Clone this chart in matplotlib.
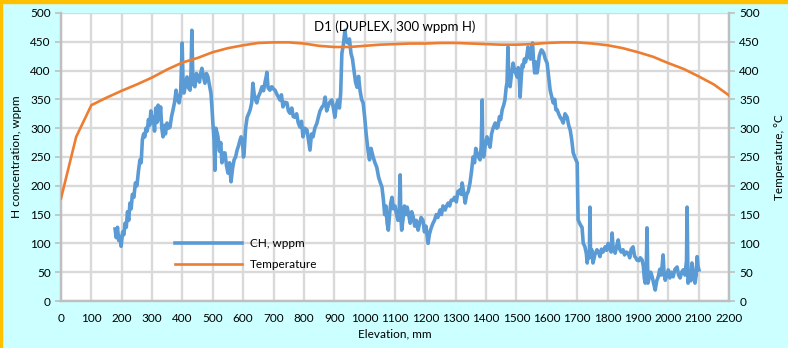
import numpy as np
import matplotlib
matplotlib.use("Agg")
import matplotlib.pyplot as plt
from matplotlib.patches import Rectangle

plt.rcParams['font.family'] = ['Lato', 'DejaVu Sans']

# H concentration profile along the sample (elevation mm, wppm)
elev_ch = [178, 182, 186, 190, 195, 198, 203, 207, 211, 215, 219, 223, 227, 231, 235, 240, 245, 250, 255, 260,
           264, 268, 272, 276, 280, 284, 288, 292, 296, 300, 304, 308, 312, 316, 320, 324, 328, 332, 336, 340,
           344, 349, 354, 359, 364, 369, 374, 379, 384, 389, 394, 399, 402, 405, 410, 415, 420, 425, 428, 431,
           434, 437, 441, 446, 451, 456, 460, 464, 469, 474, 479, 484, 489, 494, 497, 500, 504, 507, 510, 514,
           517, 522, 526, 530, 535, 540, 545, 550, 555, 560, 565, 570, 575, 580, 585, 590, 593, 598, 601, 603,
           608, 613, 618, 623, 628, 632, 636, 640, 645, 650, 656, 662, 667, 672, 676, 678, 682, 688, 694, 700,
           705, 710, 715, 721, 726, 731, 737, 744, 749, 754, 760, 765, 771, 776, 781, 787, 792, 797, 803, 810,
           815, 820, 825, 830, 836, 843, 848, 853, 860, 865, 870, 875, 879, 885, 892, 897, 902, 907, 912, 917,
           921, 925, 930, 935, 940, 945, 950, 955, 960, 965, 970, 975, 980, 985, 990, 995, 1000, 1005, 1011, 1016,
           1021, 1028, 1034, 1040, 1046, 1052, 1057, 1062, 1066, 1070, 1074, 1078, 1082, 1086, 1090, 1095, 1100,
           1105, 1110, 1114, 1117, 1119, 1122, 1126, 1131, 1136, 1140, 1145, 1150, 1155, 1160, 1165, 1170, 1176,
           1181, 1186, 1192, 1197, 1202, 1209, 1213, 1218, 1225, 1230, 1236, 1241, 1248, 1253, 1258, 1265, 1270,
           1275, 1280, 1285, 1291, 1296, 1302, 1307, 1314, 1318, 1321, 1326, 1331, 1336, 1341, 1347, 1352, 1357,
           1362, 1366, 1370, 1375, 1380, 1384, 1387, 1389, 1392, 1397, 1403, 1408, 1413, 1418, 1423, 1430, 1435,
           1439, 1444, 1448, 1453, 1458, 1462, 1466, 1469, 1472, 1475, 1479, 1484, 1489, 1494, 1498, 1502, 1506,
           1510, 1512, 1516, 1519, 1522, 1526, 1530, 1534, 1538, 1542, 1546, 1550, 1553, 1556, 1560, 1564, 1568,
           1572, 1575, 1578, 1582, 1586, 1590, 1595, 1601, 1606, 1611, 1616, 1621, 1626, 1630, 1634, 1639, 1644,
           1649, 1654, 1660, 1667, 1672, 1677, 1682, 1687, 1692, 1696, 1700, 1703, 1708, 1713, 1716, 1720, 1725,
           1730, 1733, 1736, 1740, 1742, 1744, 1748, 1752, 1758, 1765, 1770, 1775, 1780, 1785, 1792, 1797, 1802,
           1808, 1812, 1815, 1818, 1822, 1825, 1830, 1835, 1840, 1845, 1851, 1856, 1862, 1868, 1873, 1878, 1884,
           1889, 1893, 1897, 1903, 1908, 1914, 1918, 1921, 1924, 1927, 1930, 1933, 1937, 1942, 1947, 1952, 1957,
           1962, 1967, 1972, 1977, 1983, 1986, 1990, 1995, 2000, 2005, 2010, 2016, 2022, 2029, 2034, 2039, 2044,
           2049, 2055, 2060, 2062, 2065, 2070, 2074, 2078, 2082, 2085, 2088, 2092, 2095, 2098, 2101]
ch_wppm = [125, 110, 128, 105, 112, 95, 120, 115, 135, 128, 155, 140, 170, 160, 185, 180, 205, 200, 225, 245,
           240, 280, 290, 285, 300, 295, 315, 305, 330, 310, 320, 295, 335, 310, 340, 315, 337, 300, 285, 305,
           290, 309, 300, 302, 320, 332, 345, 366, 350, 344, 360, 448, 380, 361, 375, 389, 370, 366, 395, 470,
           390, 375, 372, 395, 389, 380, 395, 404, 390, 378, 395, 389, 375, 360, 337, 310, 280, 227, 300, 292,
           285, 260, 275, 240, 257, 257, 235, 222, 240, 207, 230, 245, 250, 262, 270, 280, 285, 275, 250, 257,
           300, 319, 325, 332, 344, 378, 360, 350, 344, 355, 362, 372, 365, 380, 390, 397, 370, 366, 372, 368,
           366, 360, 355, 349, 358, 337, 345, 344, 330, 326, 335, 320, 319, 325, 310, 302, 312, 285, 300, 297,
           280, 262, 290, 285, 300, 309, 320, 330, 337, 340, 354, 330, 337, 345, 349, 335, 319, 340, 349, 335,
           360, 430, 445, 470, 450, 448, 455, 430, 420, 400, 380, 371, 390, 365, 350, 344, 320, 290, 262, 245,
           265, 250, 240, 232, 215, 205, 198, 175, 150, 165, 135, 123, 150, 170, 180, 160, 165,
           150, 140, 160, 219, 150, 123, 140, 165, 150, 163, 150, 135, 155, 146, 130, 140, 123,
           135, 145, 140, 120, 130, 100, 115, 125, 135, 140, 150, 145, 158, 150, 165, 158, 165,
           170, 165, 175, 175, 180, 172, 190, 193, 185, 205, 190, 170, 185, 190, 205, 225, 250,
           240, 265, 257, 250, 245, 270, 349, 260, 250, 270, 285, 275, 267, 290, 300, 309, 300,
           302, 320, 315, 332, 340, 349, 370, 380, 441, 380, 372, 395, 413, 400, 395, 389, 405,
           380, 354, 390, 410, 406, 420, 415, 425, 441, 430, 420, 440, 448, 420, 396, 415, 396,
           410, 425, 430, 436, 434, 430, 420, 413, 390, 366, 355, 344, 350, 332, 332, 325, 319,
           315, 309, 325, 319, 305, 297, 280, 257, 250, 245, 240, 141, 135, 130, 128, 100, 95,
           83, 66, 83, 75, 163, 80, 89, 66, 80, 89, 85, 77, 90, 85, 94, 88, 100,
           90, 85, 118, 95, 90, 83, 95, 106, 90, 85, 89, 80, 85, 83, 75, 90, 94,
           78, 75, 71, 70, 75, 71, 60, 40, 31, 45, 127, 31, 40, 50, 42, 30, 19,
           35, 42, 55, 45, 80, 50, 36, 45, 54, 40, 50, 42, 55, 59, 45, 40, 50,
           54, 45, 70, 163, 31, 45, 35, 66, 50, 40, 31, 45, 77, 60, 54]

# furnace temperature profile (elevation mm, deg C)
elev_t = [0, 50, 100, 150, 200, 250, 300, 350, 400, 450, 500, 550, 600, 650, 700, 750, 800, 850, 900, 950,
          1000, 1050, 1100, 1150, 1200, 1250, 1300, 1350, 1400, 1450, 1500, 1550, 1600, 1650, 1700, 1750,
          1800, 1850, 1900, 1950, 2000, 2050, 2100, 2150, 2200]
temp_c = [178, 285, 340, 353, 365, 376, 388, 402, 414, 422, 432, 439, 444, 448, 449, 449, 447, 443, 441, 441,
          443, 445, 446, 447, 447, 448, 448, 447, 446, 445, 445, 446, 448, 449, 449, 447,
          444, 439, 432, 424, 413, 403, 390, 376, 357]

fig = plt.figure(figsize=(7.88, 3.48), dpi=100, facecolor='#CCFFFF')
ax = fig.add_axes([61/788, 1-301/348, 668/788, 288/348])
ax.set_facecolor('white')

grid_c = '#D9D9D9'
ax.set_xlim(0, 2200)
ax.set_ylim(0, 500)
ax.set_xticks(np.arange(0, 2201, 100))
ax.set_yticks(np.arange(0, 501, 50))
ax.grid(True, color=grid_c, linewidth=1.7)
ax.set_axisbelow(True)
ax.spines['top'].set_visible(False)
for s in ['left', 'bottom', 'right']:
    ax.spines[s].set_color('#BFBFBF')
    ax.spines[s].set_linewidth(1.7)
ax.tick_params(axis='both', colors='#BFBFBF', labelcolor='black', labelsize=8.5, length=4, width=1.2)
ax.tick_params(axis='x', length=0, pad=9)

l1, = ax.plot(elev_ch, ch_wppm, color='#5B9BD5', linewidth=2.6, solid_joinstyle='round', label='CH, wppm')
ax.set_xlabel('Elevation, mm', fontsize=8.5, labelpad=3)
ax.set_ylabel('H concentration, wppm', fontsize=8.5, labelpad=6)

ax2 = ax.twinx()
ax2.set_ylim(0, 500)
ax2.set_yticks(np.arange(0, 501, 50))
for s in ax2.spines.values():
    s.set_visible(False)
ax2.tick_params(axis='y', colors='#BFBFBF', labelcolor='black', labelsize=8.5, length=4, width=1.2)
l2, = ax2.plot(elev_t, temp_c, color='#ED7D31', linewidth=1.9, label='Temperature')
ax2.set_ylabel('Temperature, °C', fontsize=8.5, labelpad=10)

ax2.text(0.5, 0.975, 'D1 (DUPLEX, 300 wppm H)', transform=ax.transAxes, ha='center', va='top', fontsize=9.5)

ax2.legend([l1, l2], ['CH, wppm', 'Temperature'], loc='lower left', bbox_to_anchor=(0.155, 0.07),
           frameon=False, fontsize=8.5, handlelength=5.7, handletextpad=0.6, labelspacing=0.85)

# gold edge along the top and left of the chart frame
fig.patches.append(Rectangle((0, 1-3/348), 1, 3/348, transform=fig.transFigure, color='#FFC000', zorder=5))
fig.patches.append(Rectangle((0, 0), 2/788, 1, transform=fig.transFigure, color='#FFC000', zorder=5))

fig.savefig('out.png', dpi=100, facecolor=fig.get_facecolor())
